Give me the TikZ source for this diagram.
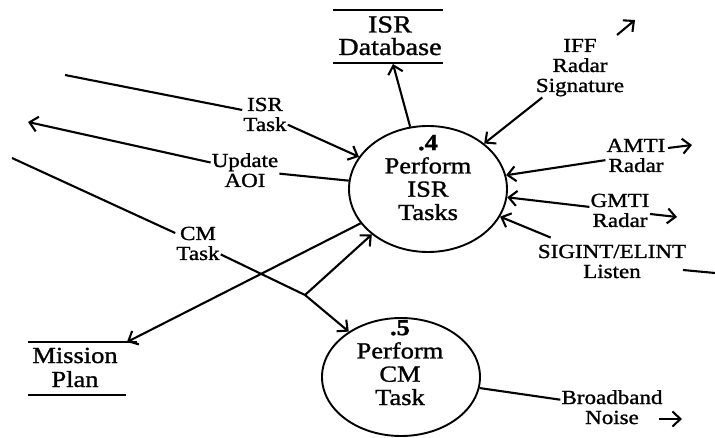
\documentclass[tikz,border=0pt]{standalone}
\usepackage{fontspec}
\setmainfont{Liberation Serif}[FakeStretch=1.15,FakeBold=1.2]
\usetikzlibrary{arrows.meta,shapes.geometric}
\begin{document}
\begin{tikzpicture}[x=1pt,y=-1pt,
  proc/.style={draw,ellipse,line width=1.9pt,minimum width=158pt,minimum height=126pt,inner sep=0pt},
  lbl/.style={align=center,anchor=base,inner sep=1pt,font=\fontsize{20}{20}\selectfont},
  ptxt/.style={align=center,anchor=base,inner sep=0pt,font=\fontsize{23}{23.3}\selectfont},
  storetxt/.style={align=center,anchor=base,inner sep=0pt},
  flow/.style={line width=2.1pt,-{Straight Barb[length=8pt,width=15pt]}},
  plainline/.style={line width=2.1pt},
  sline/.style={line width=1.9pt}]
\useasboundingbox (0,0) rectangle (715,438);
\fill[white] (0,0) rectangle (715,438);

% processes
\node[proc] (p4) at (428,189) {};
\node[ptxt] (p4t) at (428,220) {\textbf{.4}\\Perform\\ISR\\Tasks};
\node[proc,minimum height=118pt] (p5) at (401,377) {};
\node[ptxt] (p5t) at (400,405) {\textbf{.5}\\Perform\\CM\\Task};

% data stores
\node[storetxt,font=\fontsize{24.5}{22.5}\selectfont] (db) at (390,55) {ISR\\Database};
\coordinate (dbTL) at (333,10); \coordinate (dbTR) at (443,10);
\coordinate (dbBL) at (333,63); \coordinate (dbBR) at (443,63);
\draw[sline] (dbTL) -- (dbTR);
\draw[sline] (dbBL) -- (dbBR);
\coordinate (dbIn) at (393,64);

\node[storetxt,font=\fontsize{23}{24}\selectfont] (mp) at (75,387) {Mission\\Plan};
\coordinate (mpTL) at (28,342); \coordinate (mpTR) at (137,342);
\coordinate (mpBL) at (28,395); \coordinate (mpBR) at (126,395);
\draw[sline] (mpTL) -- (mpTR);
\draw[sline] (mpBL) -- (mpBR);
\coordinate (mpIn) at (127,342);

% labels
\node[lbl] (isrtask) at (265,131) {ISR\\Task};
\node[lbl] (update) at (245,187) {Update\\AOI};
\node[lbl] (cmtask) at (198,260) {CM\\Task};
\node[lbl] (iff) at (580,92) {IFF\\Radar\\Signature};
\node[lbl] (amti) at (636,172) {AMTI\\Radar};
\node[lbl] (gmti) at (620,227) {GMTI\\Radar};
\node[lbl] (sigint) at (612,278) {SIGINT/ELINT\\Listen};
\node[lbl] (broad) at (612,424) {Broadband\\Noise};

% free ends
\coordinate (isrA) at (65,75);
\coordinate (aoiOut) at (28,122);
\coordinate (cmA) at (12,158);
\coordinate (jn) at (305,295);
\coordinate (iffS1) at (617,35); \coordinate (iffS2) at (635,20);
\coordinate (amtiS1) at (668,148); \coordinate (amtiS2) at (692,145);
\coordinate (gmtiS1) at (650,214); \coordinate (gmtiS2) at (677,217);
\coordinate (sigR1) at (683,270); \coordinate (sigR2) at (715,273);
\coordinate (bbS1) at (659,419); \coordinate (bbS2) at (682,419);

% connectors
\draw[plainline] (isrA) -- (isrtask);
\draw[flow] (isrtask) -- (p4.155);
\draw[flow] (update) -- (aoiOut);
\draw[plainline] (update) -- (p4.174);
\draw[plainline] (cmA) -- (cmtask);
\draw[plainline] (cmtask) -- (jn);
\draw[flow] (jn) -- (p5.139);
\draw[flow] (jn) -- (p4.219);
\draw[flow] (p4.207) -- (mpIn);
\draw[flow] (p4.106) -- (dbIn);
\draw[flow] (iff) -- (p4.39);
\draw[flow] (amti) -- (p4.10);
\draw[flow] (gmti) -- (p4.-6);
\draw[flow] ([xshift=14pt,yshift=6pt]sigint.north west) -- (p4.-21);
\draw[plainline] (p5.-8) -- (broad);

\draw[flow] (iffS1) -- (iffS2);
\draw[flow] (amtiS1) -- (amtiS2);
\draw[flow] (gmtiS1) -- (gmtiS2);
\draw[plainline] (sigR1) -- (sigR2);
\draw[flow] (bbS1) -- (bbS2);
\end{tikzpicture}
\end{document}
